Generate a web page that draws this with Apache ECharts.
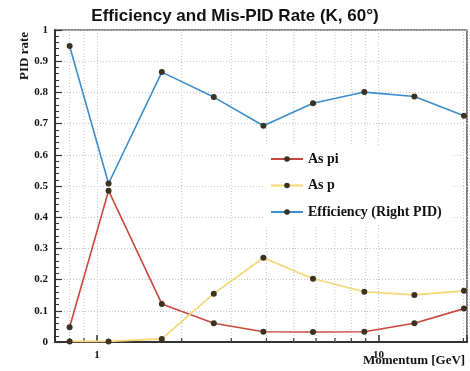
<!DOCTYPE html>
<html><head><meta charset="utf-8">
<script src="https://cdn.jsdelivr.net/npm/echarts@6/dist/echarts.min.js"></script>
<style>html,body{margin:0;padding:0;background:#fff}#c{width:470px;height:371px}</style>
</head><body><div id="c"></div>
<script>
const momentum = [0.8, 1.1, 1.7, 2.6, 3.9, 5.85, 8.9, 13.4, 20.1];
const asPi = [0.047, 0.485, 0.122, 0.060, 0.033, 0.032, 0.033, 0.060, 0.107];
const asP = [0.002, 0.002, 0.010, 0.155, 0.270, 0.203, 0.161, 0.151, 0.164];
const efficiency = [0.949, 0.508, 0.865, 0.785, 0.693, 0.765, 0.801, 0.787, 0.725];
const xMinorGrid = [0.8, 0.9, 2, 3, 4, 5, 6, 7, 8, 9, 20];
const xTickLabels = [1, 10];
const seriesNames = ['As pi', 'As p', 'Efficiency (Right PID)'];

const serif = '"Liberation Serif", "DejaVu Serif", serif';
const markerColor = '#3b3320';
const colors = ['#c9473e', '#f5d672', '#3b8dcc'];

function pairs(ys) { return momentum.map((x, i) => [x, ys[i]]); }
function lineSeries(name, ys, color) {
  return {
    name, type: 'line', data: pairs(ys), symbol: 'circle', symbolSize: 6,
    itemStyle: { color: markerColor },
    lineStyle: { color, width: 1.6 },
    emphasis: { disabled: true }, z: 5
  };
}

const chart = echarts.init(document.getElementById('c'), null, { renderer: 'canvas' });
chart.setOption({
  animation: false,
  title: {
    text: 'Efficiency and Mis-PID Rate (K, 60°)', left: 'center', top: 3,
    textStyle: { fontFamily: '"Liberation Sans", Arial, sans-serif', fontWeight: 'bold', fontSize: 17, color: '#111' }
  },
  grid: { left: 55, right: 1, top: 30, bottom: 29, show: true, borderColor: '#222', borderWidth: 1.2, backgroundColor: 'transparent' },
  legend: {
    data: seriesNames, orient: 'vertical', left: 264, top: 146,
    itemWidth: 32, itemHeight: 7, itemGap: 12.5,
    backgroundColor: '#fff', padding: [6, 10, 6, 6],
    textStyle: { fontFamily: serif, fontWeight: 'bold', fontSize: 14, color: '#111' }
  },
  xAxis: {
    type: 'log', logBase: 10, min: 0.71, max: 20.6,
    axisLine: { lineStyle: { color: '#333', width: 2 } },
    axisTick: { inside: true, length: 7, lineStyle: { color: '#333', width: 1.5 } },
    axisLabel: {
      formatter: v => (xTickLabels.some(t => Math.abs(t - v) < 1e-6) ? String(Math.round(v)) : ''),
      fontFamily: serif, fontWeight: 'bold', fontSize: 11, color: '#111', margin: 8
    },
    splitLine: { show: true, lineStyle: { color: '#c4c4c4', type: [1, 2], width: 1 } }
  },
  yAxis: {
    type: 'value', min: 0, max: 1, interval: 0.1,
    axisLine: { show: true, lineStyle: { color: '#333', width: 2 } },
    axisTick: { show: true, inside: true, length: 7, lineStyle: { color: '#333', width: 1.2 } },
    minorTick: { show: true, splitNumber: 5, length: 4, lineStyle: { color: '#333', width: 1 } },
    axisLabel: {
      formatter: v => (v === 0 ? '0' : v === 1 ? '1' : v.toFixed(1)),
      fontFamily: serif, fontWeight: 'bold', fontSize: 11, color: '#111', margin: 7
    },
    splitLine: { show: true, lineStyle: { color: '#c4c4c4', type: [1, 2], width: 1 } }
  },
  graphic: [
    { type: 'text', x: 25, y: 56, rotation: Math.PI / 2,
      style: { text: 'PID rate', font: 'bold 13px "Liberation Serif"', fill: '#111', textAlign: 'center', textVerticalAlign: 'middle' } },
    { type: 'text', x: 363, y: 361,
      style: { text: 'Momentum [GeV]', font: 'bold 13px "Liberation Serif"', fill: '#111', textAlign: 'left', textVerticalAlign: 'middle' } }
  ],
  series: [
    {
      type: 'custom', name: 'grid', silent: true, z: 1,
      data: xMinorGrid.map(v => [v, 0]),
      encode: { x: 0, y: 1 },
      renderItem: (params, api) => {
        const v = api.value(0);
        const p0 = api.coord([v, 0]);
        const p1 = api.coord([v, 1]);
        return {
          type: 'group', children: [
            { type: 'line', shape: { x1: p0[0], y1: p0[1], x2: p1[0], y2: p1[1] },
              style: { stroke: '#c4c4c4', lineWidth: 1, lineDash: [1, 2] } },
            { type: 'line', shape: { x1: p0[0], y1: p0[1], x2: p0[0], y2: p0[1] - 4 },
              style: { stroke: '#333', lineWidth: 1.2 } }
          ]
        };
      }
    },
    lineSeries(seriesNames[0], asPi, colors[0]),
    lineSeries(seriesNames[1], asP, colors[1]),
    lineSeries(seriesNames[2], efficiency, colors[2])
  ]
});
</script>
</body></html>
